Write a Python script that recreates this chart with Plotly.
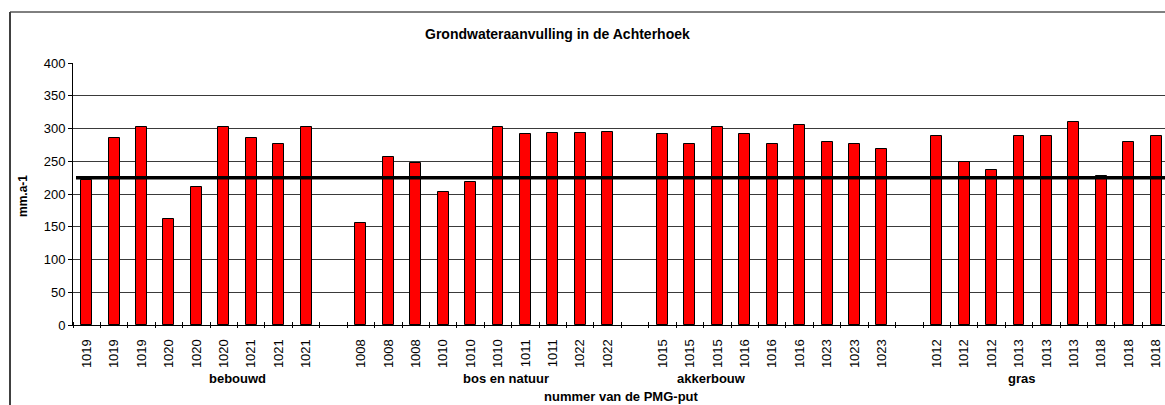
import plotly.graph_objects as go

# ---------------- data ----------------
groups = ["bebouwd", "bos en natuur", "akkerbouw", "gras"]
labels_bebouwd = ["1019", "1019", "1019", "1020", "1020", "1020", "1021", "1021", "1021"]
labels_bos = ["1008", "1008", "1008", "1010", "1010", "1010", "1011", "1011", "1022", "1022"]
labels_akker = ["1015", "1015", "1015", "1016", "1016", "1016", "1023", "1023", "1023"]
labels_gras = ["1012", "1012", "1012", "1013", "1013", "1013", "1018", "1018", "1018"]

values_bebouwd = [222, 285, 303, 162, 210, 303, 285, 277, 303]
values_bos = [156, 256, 247, 203, 218, 303, 291, 293, 293, 295]
values_akker = [291, 277, 303, 291, 277, 305, 279, 277, 268]
values_gras = [289, 249, 236, 289, 288, 310, 228, 279, 289]

reference_value = 225  # horizontal reference line (mm/a)

title_text = "Grondwateraanvulling in de Achterhoek"
y_title = "mm.a-1"
x_title = "nummer van de PMG-put"

# ---------------- layout constants ----------------
W, H = 1165, 405
ML, MR, MT, MB = 73, 0, 63, 80
PW = W - ML - MR
PH = H - MT - MB
SLOT_PX = 27.42
X_MIN = -0.5
X_MAX = X_MIN + PW / SLOT_PX
FONT = "Liberation Sans, Arial, sans-serif"

def px_to_paper_x(px):
    return (px - ML) / PW

def px_to_paper_y(py):
    return (H - MB - py) / PH

# build positions (one empty slot between groups)
all_labels = [labels_bebouwd, labels_bos, labels_akker, labels_gras]
all_values = [values_bebouwd, values_bos, values_akker, values_gras]
xs, ys, texts = [], [], []
pos = 0
for labs, vals in zip(all_labels, all_values):
    for lab, v in zip(labs, vals):
        xs.append(pos)
        ys.append(v)
        texts.append(lab)
        pos += 1
    pos += 1

# group label positions (slot units, as in the reference)
group_label_x = [5.5, 15.3, 22.8, 34.1]

fig = go.Figure()
fig.add_trace(go.Bar(
    x=xs, y=ys, width=0.4,
    marker=dict(color="#FF0000", line=dict(color="black", width=1)),
    hovertext=texts, showlegend=False,
))

fig.add_shape(type="line", xref="paper", yref="y",
              x0=px_to_paper_x(76), x1=1, y0=reference_value, y1=reference_value,
              line=dict(color="black", width=3.5))

# chart border (top + left)
fig.add_shape(type="line", xref="paper", yref="paper",
              x0=px_to_paper_x(10), x1=1.01, y0=px_to_paper_y(12), y1=px_to_paper_y(12),
              line=dict(color="black", width=1))
fig.add_shape(type="line", xref="paper", yref="paper",
              x0=px_to_paper_x(10), x1=px_to_paper_x(10), y0=px_to_paper_y(12), y1=px_to_paper_y(410),
              line=dict(color="#404040", width=2))

annotations = [
    dict(text=title_text, xref="paper", yref="paper", x=px_to_paper_x(557), y=px_to_paper_y(34),
         showarrow=False, xanchor="center", yanchor="middle",
         font=dict(family=FONT, size=14, color="black", weight="bold")),
    dict(text=y_title, xref="paper", yref="paper", x=px_to_paper_x(23), y=px_to_paper_y(196),
         showarrow=False, textangle=-90, xanchor="center", yanchor="middle",
         font=dict(family=FONT, size=12, color="black", weight="bold")),
    dict(text=x_title, xref="paper", yref="paper", x=px_to_paper_x(621), y=px_to_paper_y(396),
         showarrow=False, xanchor="center", yanchor="middle",
         font=dict(family=FONT, size=13, color="black", weight="bold")),
]
for g, gx in zip(groups, group_label_x):
    annotations.append(dict(text=g, xref="x", yref="paper", x=gx, y=px_to_paper_y(378),
                            showarrow=False, xanchor="center", yanchor="middle",
                            font=dict(family=FONT, size=13, color="black", weight="bold")))

fig.update_layout(
    width=W, height=H,
    margin=dict(l=ML, r=MR, t=MT, b=MB, pad=0),
    paper_bgcolor="white", plot_bgcolor="white",
    font=dict(family=FONT, size=13, color="black"),
    bargap=0,
    annotations=annotations,
    xaxis=dict(
        range=[X_MIN, X_MAX], tickmode="array", tickvals=xs, ticktext=texts,
        tickangle=-90, ticks="outside", ticklen=8, tickcolor="rgba(0,0,0,0)",
        tickfont=dict(family=FONT, size=13, color="black"),
        showline=True, linecolor="black", linewidth=1, showgrid=False, zeroline=False,
        minor=dict(tick0=-0.5, dtick=1, ticks="inside", ticklen=3, tickcolor="black",
                   tickwidth=1, showgrid=False),
    ),
    xaxis2=dict(
        overlaying="x", matches="x", anchor="y", side="bottom",
        showticklabels=False, showgrid=False, zeroline=False, showline=False,
        tickmode="array", tickvals=[], ticks="",
        minor=dict(tick0=-0.5, dtick=1, ticks="outside", ticklen=2, tickcolor="black",
                   tickwidth=1, showgrid=False),
    ),
    yaxis=dict(
        range=[0, 400], dtick=50, tick0=0, ticks="outside", ticklen=4, tickcolor="black",
        tickfont=dict(family=FONT, size=13, color="black"),
        showline=True, linecolor="black", linewidth=1,
        showgrid=True, gridcolor="#3a3a3a", gridwidth=1, zeroline=False,
    ),
)
# invisible trace so that xaxis2 is rendered
fig.add_trace(go.Scatter(x=[xs[0]], y=[0], xaxis="x2", mode="markers",
                         marker=dict(opacity=0), showlegend=False, hoverinfo="skip"))

fig.write_html(
    "out.html",
    config={"displayModeBar": False},
    post_script="document.body.style.margin='0';document.body.style.overflow='hidden';",
)
